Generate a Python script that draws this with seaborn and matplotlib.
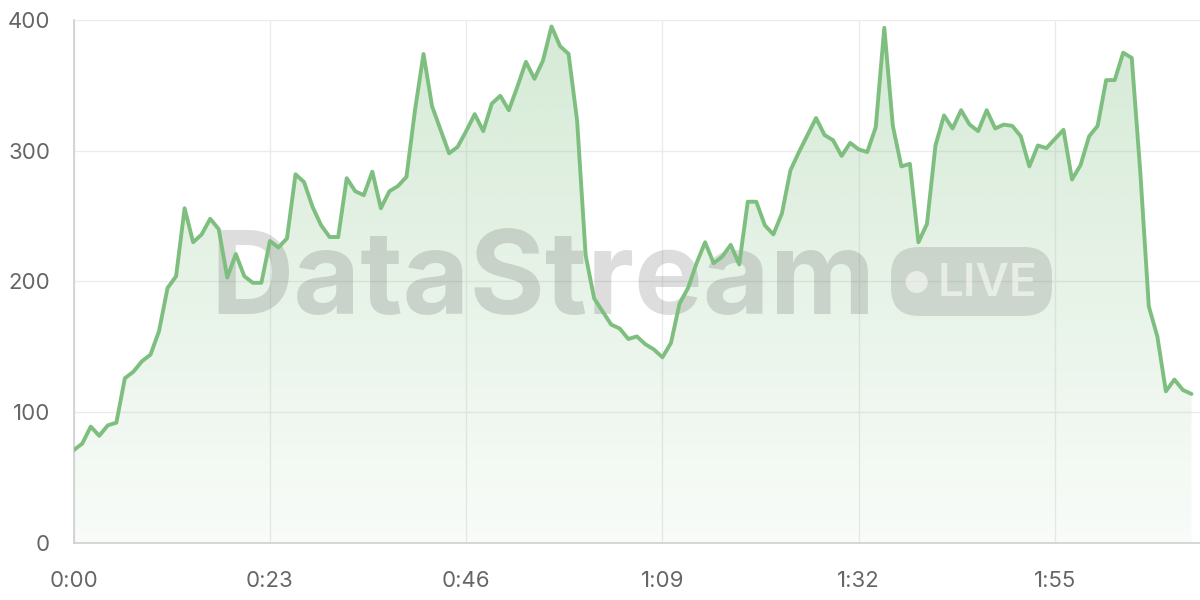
import numpy as np
import pandas as pd
import seaborn as sns
import matplotlib.pyplot as plt
from matplotlib.patches import FancyBboxPatch, Circle

# viewers per second of the live stream
seconds = list(range(132))
viewers = [
    71, 76, 89, 82, 90, 92, 126, 131, 139, 144,
    162, 195, 204, 256, 230, 236, 248, 240, 203, 221,
    204, 199, 199, 231, 226, 233, 282, 276, 257, 243,
    234, 234, 279, 269, 266, 284, 256, 269, 273, 280,
    331, 374, 334, 316, 298, 303, 315, 328, 315, 336,
    342, 331, 349, 368, 355, 369, 395, 380, 374, 323,
    220, 187, 177, 167, 164, 156, 158, 152, 148, 142,
    153, 183, 195, 214, 230, 214, 219, 228, 213, 261,
    261, 243, 236, 252, 285, 299, 312, 325, 312, 308,
    296, 306, 301, 299, 318, 394, 319, 288, 290, 230,
    244, 304, 327, 317, 331, 320, 315, 331, 317, 320,
    319, 311, 288, 304, 302, 309, 316, 278, 289, 311,
    319, 354, 354, 375, 371, 284, 181, 158, 116, 125,
    117, 114,
]
tick_seconds = [0, 23, 46, 69, 92, 115]
tick_labels = ["0:00", "0:23", "0:46", "1:09", "1:32", "1:55"]
y_ticks = [0, 100, 200, 300, 400]

df = pd.DataFrame({"t": seconds, "viewers": viewers})

sns.set_style("whitegrid")
plt.rcParams['font.family'] = ['Inter', 'DejaVu Sans']

green = "#7ebf80"

fig = plt.figure(figsize=(12, 6), dpi=100)
ax = fig.add_axes([0.0614, 0.095, 0.9386, 0.8717])

# gradient fill under the line
fill = ax.fill_between(df["t"], df["viewers"], 0, facecolor="none", edgecolor="none")
path = fill.get_paths()[0]
rgb = np.array(plt.matplotlib.colors.to_rgb(green))
grad = np.zeros((256, 1, 4))
grad[:, :, :3] = rgb
grad[:, 0, 3] = np.linspace(0.33, 0.05, 256)
img = ax.imshow(grad, extent=[0, 132, 0, 400], aspect="auto", origin="upper", zorder=1)
img.set_clip_path(path, transform=ax.transData)

sns.lineplot(data=df, x="t", y="viewers", ax=ax, color=green, linewidth=2.8, zorder=4)

ax.set_xlim(0, 132)
ax.set_ylim(0, 400)
ax.set_xticks(tick_seconds)
ax.set_xticklabels(tick_labels)
ax.set_yticks(y_ticks)
ax.set_xlabel("")
ax.set_ylabel("")

ax.grid(True, color="#ebebeb", linewidth=1)
for side in ["top", "right"]:
    ax.spines[side].set_visible(False)
for side in ["left", "bottom"]:
    ax.spines[side].set_color("#cfcfcf")
    ax.spines[side].set_linewidth(1.2)

ax.tick_params(axis="both", length=11, width=1, color="#e6e6e6",
               labelsize=16, labelcolor="#666666")
ax.tick_params(axis="x", pad=9)
ax.tick_params(axis="y", pad=6)

# watermark
ax.text(0.121, 0.438, "DataStream", transform=ax.transAxes, ha="left", va="baseline",
        fontsize=83, fontweight="bold", color="#555555", alpha=0.2, zorder=3)
pill = FancyBboxPatch((8.91, 2.84), 1.61, 0.69, boxstyle="round,pad=0,rounding_size=0.28",
                      transform=fig.dpi_scale_trans, facecolor="#555555", edgecolor="none",
                      alpha=0.18, zorder=3)
ax.add_patch(pill)
dot = Circle((9.167, 3.18), 0.11, transform=fig.dpi_scale_trans, facecolor="white",
             edgecolor="none", alpha=0.55, zorder=3)
ax.add_patch(dot)
fig.text(9.38 / 12, 3.04 / 6, "LIVE", ha="left", va="baseline", fontsize=33,
         fontweight="semibold", color="white", alpha=0.55, zorder=3)

fig.savefig("out.png", dpi=100)
